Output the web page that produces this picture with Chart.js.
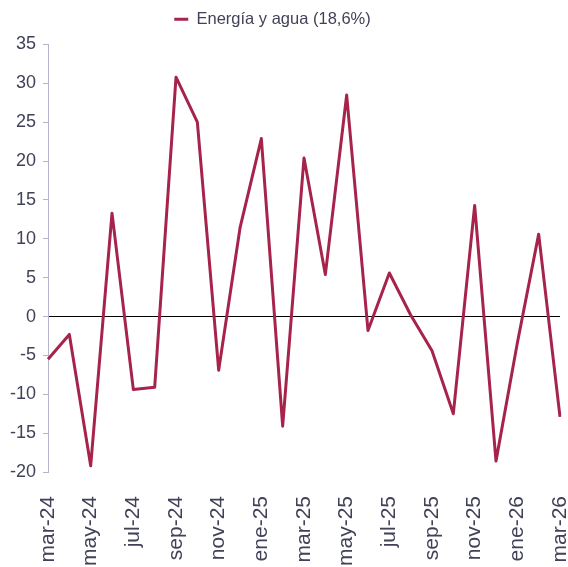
<!DOCTYPE html>
<html>
<head>
<meta charset="utf-8">
<script src="https://cdn.jsdelivr.net/npm/chart.js@4"></script>
<style>
html,body{margin:0;padding:0;background:#fff;}
#wrap{width:568px;height:567px;position:relative;}
</style>
</head>
<body>
<div id="wrap"><canvas id="c"></canvas></div>
<script>
const categories = ["mar-24","abr-24","may-24","jun-24","jul-24","ago-24","sep-24","oct-24","nov-24","dic-24",
  "ene-25","feb-25","mar-25","abr-25","may-25","jun-25","jul-25","ago-25","sep-25","oct-25","nov-25","dic-25",
  "ene-26","feb-26","mar-26"];
const energiaAgua = [-5.5,-2.3,-19.2,13.3,-9.4,-9.1,30.8,25.0,-6.9,11.4,
  22.9,-14.1,20.4,5.4,28.5,-1.8,5.6,0.2,-4.4,-12.5,14.3,-18.6,
  -3.4,10.6,-12.9];
const seriesName = "Energía y agua (18,6%)";
const yTicks = {min:-20, max:35, step:5};

const lineColor = '#A6244B';
const textColor = '#414257';
const axisColor = '#B4B4CC';

const legendShift = {
  id:'legendShift',
  afterLayout(chart){
    const l = chart.legend;
    if(l){ l.left -= 9; l.right -= 9; l.top -= 7; l.bottom -= 7; }
  }
};

new Chart(document.getElementById('c'), {
  type:'line',
  data:{
    labels: categories,
    datasets:[{
      label: seriesName,
      data: energiaAgua,
      borderColor: lineColor,
      backgroundColor: lineColor,
      borderWidth: 3,
      borderJoinStyle: 'round',
      borderCapStyle: 'butt',
      pointRadius: 0,
      tension: 0,
      fill: false
    }]
  },
  options:{
    responsive:true,
    maintainAspectRatio:false,
    animation:false,
    layout:{padding:{left:3,right:8,top:8,bottom:0}},
    plugins:{
      tooltip:{enabled:false},
      legend:{
        display:true,
        position:'top',
        labels:{
          color:textColor,
          font:{family:'Liberation Sans, Arial, sans-serif', size:16.5},
          boxWidth:14,
          boxHeight:3,
          padding:10,
          generateLabels(chart){
            return Chart.defaults.plugins.legend.labels.generateLabels(chart).map(l=>Object.assign(l,{lineWidth:0, fillStyle:lineColor}));
          }
        }
      }
    },
    scales:{
      x:{
        offset:false,
        grid:{display:false, drawTicks:false},
        border:{display:false},
        afterFit(scale){ scale.paddingLeft = 0; scale.paddingRight = 0; scale.height = 95; },
        ticks:{
          autoSkip:false,
          maxRotation:90,
          minRotation:90,
          padding:24,
          color:textColor,
          font:{family:'Liberation Sans, Arial, sans-serif', size:21},
          callback(v,i){ return i%2===0 ? categories[i] : ''; }
        }
      },
      y:{
        min:yTicks.min,
        max:yTicks.max,
        grid:{
          display:true,
          drawOnChartArea:true,
          drawTicks:true,
          tickLength:5,
          tickColor:axisColor,
          color(ctx){ return ctx.tick && ctx.tick.value===0 ? '#000000' : 'rgba(0,0,0,0)'; },
          lineWidth:1
        },
        border:{display:true, color:axisColor, width:1},
        ticks:{
          stepSize:yTicks.step,
          padding:7,
          color:textColor,
          font:{family:'Liberation Sans, Arial, sans-serif', size:18}
        }
      }
    }
  },
  plugins:[legendShift]
});
</script>
</body>
</html>
